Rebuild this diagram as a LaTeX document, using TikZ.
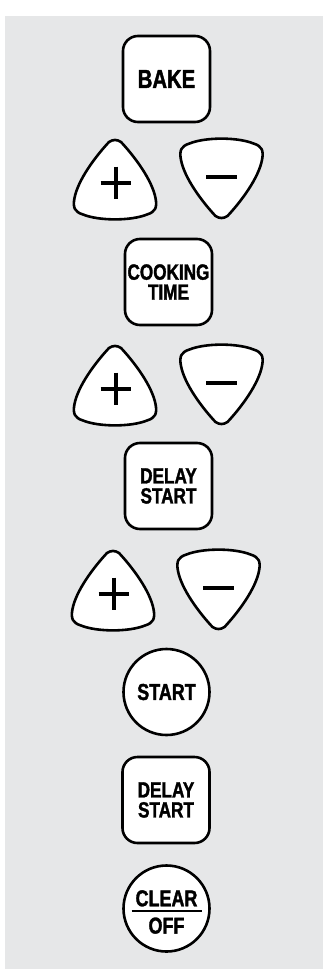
\documentclass[tikz,border=0pt]{standalone}
\usepackage{fontspec}
\newfontfamily\keyfont{Liberation Sans}[FakeStretch=0.78,FakeBold=1.5]
\usetikzlibrary{positioning}
\definecolor{panel}{HTML}{E6E7E8}

\tikzset{
  keyline/.style={draw=black, line width=2.6pt, fill=white},
  keylabel/.style={font=\keyfont\bfseries\fontsize{#1}{20}\selectfont},
  keybox/.style={keyline, rounded corners=15pt, minimum width=87pt, minimum height=86pt, inner sep=0pt, align=center},
  keyround/.style={keyline, circle, minimum size=86pt, inner sep=0pt, align=center},
  signbar/.style={line width=4.6pt},
  keytri/.pic={
    \path[keyline] (-6,2) .. controls (-2,-0.7) and (2,-0.7) .. (6,2)
      .. controls (20,17) and (37,40) .. (40.5,58)
      .. controls (42.5,68) and (40,72) .. (32,74.5)
      .. controls (16,81) and (-16,81) .. (-32,74.5)
      .. controls (-40,72) and (-42.5,68) .. (-40.5,58)
      .. controls (-37,40) and (-20,17) .. (-6,2) -- cycle;
  },
  plusbtn/.pic={
    \pic {keytri};
    \draw[signbar] (-14.3,43) -- (16.3,43) (1,26.7) -- (1,59.3);
  },
  minusbtn/.pic={
    \pic[yscale=-1] {keytri};
    \draw[signbar] (-15.5,-41) -- (15.5,-41);
  }
}

\begin{document}
\begin{tikzpicture}[x=1pt,y=-1pt]
  \useasboundingbox (0,0) rectangle (323,969);
  \fill[panel] (5,16) rectangle (323,969);

  \node[keybox, keylabel=26] (bake) at (166.5,79) {BAKE};
  \pic (plusa) at (115,140) {plusbtn};
  \pic (minusa) at (221.5,218) {minusbtn};

  \node[keybox, keylabel=22] (cooktime) at (168.5,282) {COOKING\\TIME};
  \pic (plusb) at (115,346) {plusbtn};
  \pic (minusb) at (221.5,424) {minusbtn};

  \node[keybox, keylabel=22] (delaya) at (168.5,486) {DELAY\\START};
  \pic (plusc) at (113,551) {plusbtn};
  \pic (minusc) at (218.5,629) {minusbtn};

  \node[keyround, keylabel=23] (start) at (166.5,692) {START};
  \node[keybox, keylabel=22] (delayb) at (166,800) {DELAY\\START};

  \node[keyround] (clear) at (166.5,908.5) {};
  \node[align=center, inner sep=0pt, font=\keyfont\bfseries\fontsize{23}{27.3}\selectfont]
    (clearlbl) at (166.5,912) {CLEAR\\OFF};
  \draw[line width=2.7pt] (clearlbl.center) +(-35,-1) -- +(35,-1);
\end{tikzpicture}
\end{document}
